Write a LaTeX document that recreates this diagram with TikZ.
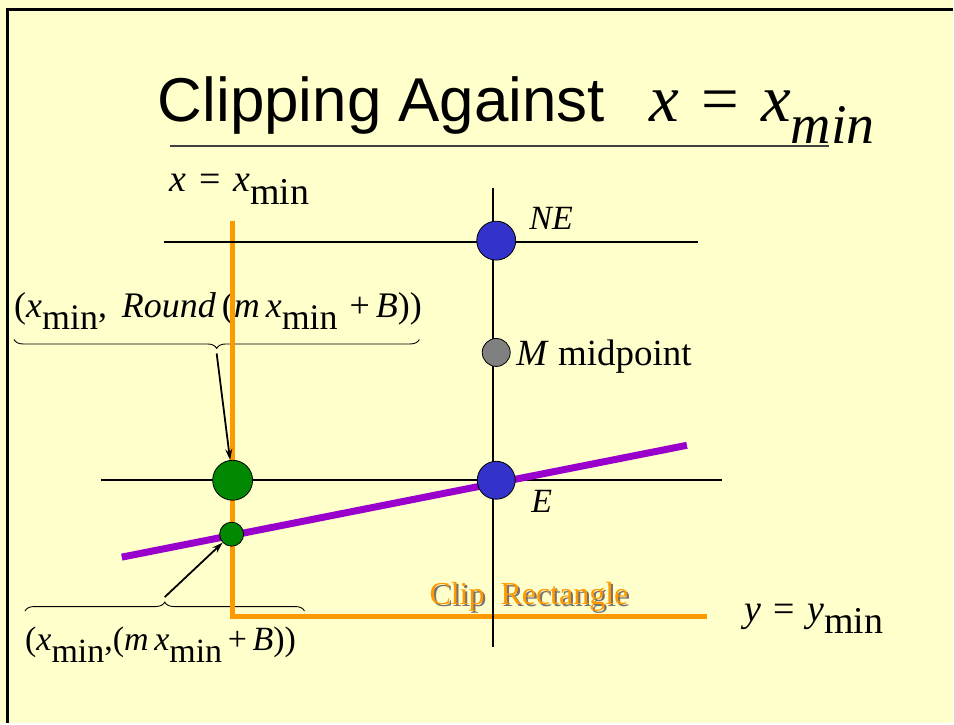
\documentclass[tikz,border=0pt]{standalone}
\usepackage{fontspec}
\setmainfont{Liberation Serif}
\setsansfont{Liberation Sans}
\usetikzlibrary{decorations.pathreplacing, arrows.meta}

\definecolor{slidebg}{HTML}{FFFFCC}
\definecolor{clipor}{HTML}{FF9900}
\definecolor{linepur}{HTML}{9900CC}
\definecolor{ptblue}{HTML}{3333CC}
\definecolor{ptgreen}{HTML}{008800}

\newcommand{\lowsub}[1]{\raisebox{-0.33em}{#1}}

\begin{document}
\begin{tikzpicture}[x=1pt, y=-1pt,
    ptdot/.style={circle, draw=black, line width=0.8pt, inner sep=0pt, minimum size=#1},
    gridline/.style={black, line width=1.8pt},
    cliprect/.style={clipor, line width=5pt},
    lbl/.style={font=\fontsize{36}{40}\selectfont, anchor=base west, inner sep=0pt},
    brc/.style={decorate, decoration={brace, amplitude=9pt}, line width=0.9pt},
]
% slide background and frame
\fill[slidebg] (0,0) rectangle (954,724);
\draw[line width=3pt] (8,724) -- (8,10) -- (954,10);

% title
\node[anchor=base west, inner sep=0pt, font=\sffamily\fontsize{62}{66}\selectfont] (title) at (158,122) {Clipping Against};
\node[anchor=base west, inner sep=0pt, font=\fontsize{67}{71}\selectfont] (titlemath) at (650,122) {\textit{x}\,\,=\,\,\textit{x}\lowsub{\fontsize{56}{60}\selectfont\textit{min}}};
\draw[black!75, line width=2.5pt] (170,146) -- (830,146);

% labels of the formulas
\node[lbl, font=\fontsize{38}{42}\selectfont] (xminlbl) at (170,192) {\textit{x}\,\,=\,\,\textit{x}\lowsub{min}};
\node[lbl] (roundlbl) at (14,318) {(\textit{x}\lowsub{min},\, \textit{Round}\,(\textit{m}\,\textit{x}\lowsub{min}\,\,+\,\textit{B}))};
\node[lbl, font=\fontsize{34}{38}\selectfont] (exactlbl) at (25,652) {(\textit{x}\lowsub{min},(\textit{m}\,\textit{x}\lowsub{min}\,+\,\textit{B}))};
\node[lbl, font=\fontsize{38}{42}\selectfont] (yminlbl) at (745,622) {\textit{y}\,\,=\,\,\textit{y}\lowsub{min}};

% braces
\draw[brc] (420,340) -- (14,340) coordinate[midway, yshift=-14pt] (roundtip);
\draw[brc] (25,612) -- (305,612) coordinate[midway, yshift=14pt] (exacttip);

% clip rectangle
\draw[cliprect] (233,221) -- (233,617) -- (708,617);
\node[lbl, font=\fontsize{32}{36}\selectfont, text=black!55] at (432,607) {Clip~~Rectangle};
\node[lbl, font=\fontsize{32}{36}\selectfont, text=clipor] (cliplbl) at (430,605) {Clip~~Rectangle};

% pixel grid lines
\draw[gridline] (164,242) -- (699,242);
\draw[gridline] (101,481) -- (723,481);
\draw[gridline] (494,188) -- (494,648);

% the line being drawn
\draw[linepur, line width=7pt] (122,558) -- (688,446);

% points
\node[ptdot=39pt, fill=ptblue] (NE) at (497,241) {};
\node[ptdot=38pt, fill=ptblue] (E) at (497,481) {};
\node[ptdot=28pt, fill=gray] (M) at (497,353) {};
\node[ptdot=40pt, fill=ptgreen] (gbig) at (233,481) {};
\node[ptdot=24pt, fill=ptgreen] (gsmall) at (232,535) {};

\node[lbl, font=\itshape\fontsize{34}{38}\selectfont] (NElbl) at (530,230) {NE};
\node[lbl, font=\fontsize{37}{41}\selectfont] (Mlbl) at (517,366) {\textit{M} midpoint};
\node[lbl, font=\itshape\fontsize{34}{38}\selectfont] (Elbl) at (532,513) {E};

% pointers
\draw[-{Stealth[length=11pt, width=7pt]}, line width=1.8pt] (roundtip) -- (gbig);
\draw[-{Stealth[length=11pt, width=7pt]}, line width=1.8pt] (exacttip) -- (gsmall);
\end{tikzpicture}
\end{document}
